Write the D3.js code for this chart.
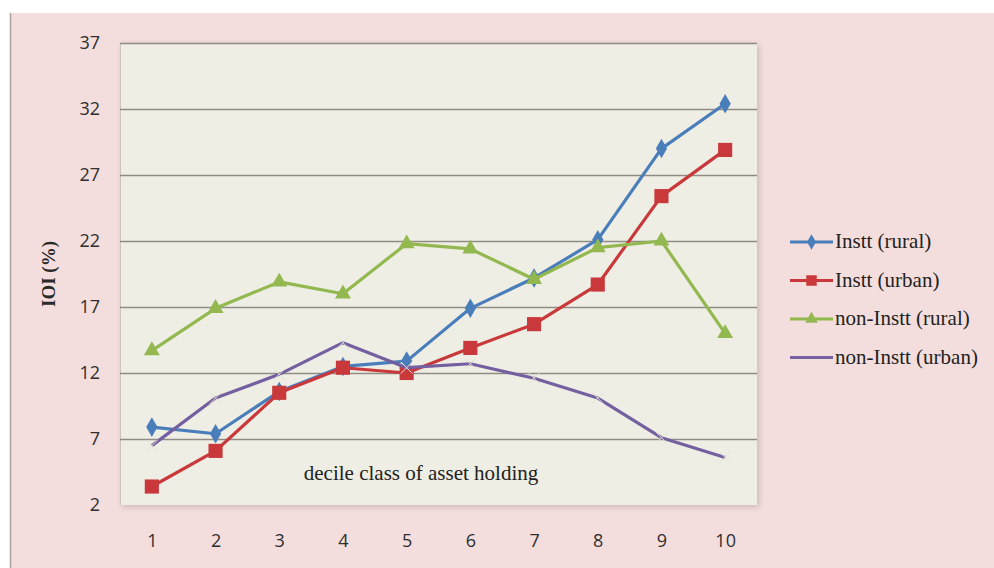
<!DOCTYPE html>
<html>
<head>
<meta charset="utf-8">
<script src="https://cdn.jsdelivr.net/npm/d3@7"></script>
<style>
  html, body { margin: 0; padding: 0; background: #ffffff; }
  svg { display: block; }
</style>
</head>
<body>
<svg id="chart" width="994" height="568"></svg>
<script>
// Decile classes of asset holding
const deciles = [1, 2, 3, 4, 5, 6, 7, 8, 9, 10];

// IOI (%) by decile class
const insttRural     = [7.9, 7.4, 10.6, 12.5, 12.9, 16.9, 19.2, 22.1, 29.0, 32.4];
const insttUrban     = [3.4, 6.1, 10.5, 12.4, 12.0, 13.9, 15.7, 18.7, 25.4, 28.9];
const nonInsttRural  = [13.7, 16.9, 18.9, 18.0, 21.8, 21.4, 19.1, 21.5, 22.0, 15.0];
const nonInsttUrban  = [6.5, 10.1, 11.9, 14.3, 12.4, 12.7, 11.6, 10.1, 7.1, 5.6];

const seriesNames = ["Instt (rural)", "Instt (urban)", "non-Instt (rural)", "non-Instt (urban)"];
const yTicks = [2, 7, 12, 17, 22, 27, 32, 37];

const series = [
  { name: seriesNames[0], values: insttRural,    color: "#4a7ebb", marker: "diamond" },
  { name: seriesNames[1], values: insttUrban,    color: "#c9393b", marker: "square" },
  { name: seriesNames[2], values: nonInsttRural, color: "#92b84f", marker: "triangle" },
  { name: seriesNames[3], values: nonInsttUrban, color: "#7460a0", marker: "cross" }
];

const serif = "'Liberation Serif', 'DejaVu Serif', serif";
const sans = "'Open Sans', 'DejaVu Sans', sans-serif";

const svg = d3.select("#chart");

// page frame: white strip on top and left, pink chart background
svg.append("rect").attr("x", 0).attr("y", 0).attr("width", 994).attr("height", 568).attr("fill", "#ffffff");
svg.append("rect").attr("x", 11).attr("y", 13).attr("width", 983).attr("height", 555).attr("fill", "#f4dedd");
svg.append("line").attr("x1", 10.5).attr("x2", 10.5).attr("y1", 13).attr("y2", 568)
  .attr("stroke", "#a9a2a2").attr("stroke-width", 1.5);

const plot = { left: 120, top: 43, right: 757, bottom: 505 };

const x = d3.scalePoint().domain(deciles).range([plot.left, plot.right]).padding(0.5);
const y = d3.scaleLinear().domain([2, 37]).range([plot.bottom, plot.top]);

// soft shadow under the plot area
const defs = svg.append("defs");
const f = defs.append("filter").attr("id", "shadow").attr("x", "-5%").attr("y", "-5%").attr("width", "115%").attr("height", "115%");
f.append("feGaussianBlur").attr("in", "SourceAlpha").attr("stdDeviation", 3);
f.append("feOffset").attr("dx", 2).attr("dy", 2).attr("result", "b");
f.append("feComponentTransfer").append("feFuncA").attr("type", "linear").attr("slope", 0.18);
const m = f.append("feMerge");
m.append("feMergeNode");
m.append("feMergeNode").attr("in", "SourceGraphic");

svg.append("rect")
  .attr("x", plot.left).attr("y", plot.top)
  .attr("width", plot.right - plot.left).attr("height", plot.bottom - plot.top)
  .attr("fill", "#efeee4")
  .attr("filter", "url(#shadow)");

// left edge of the plot area
svg.append("line").attr("x1", plot.left + 0.5).attr("x2", plot.left + 0.5)
  .attr("y1", plot.top).attr("y2", plot.bottom).attr("stroke", "#c9c5bc").attr("stroke-width", 1);

// horizontal gridlines
const yAxis = d3.axisLeft(y).tickValues(yTicks).tickSize(-(plot.right - plot.left)).tickPadding(20);
const gy = svg.append("g").attr("transform", `translate(${plot.left},0)`).call(yAxis);
gy.select(".domain").remove();
gy.selectAll(".tick line")
  .attr("stroke", d => d === 2 ? "none" : "#8e8c84")
  .attr("stroke-width", 1.6);
gy.selectAll(".tick text")
  .attr("font-family", sans)
  .attr("font-size", 18)
  .attr("fill", "#2e2e2e");

// x axis labels
const xAxis = d3.axisBottom(x).tickSize(0).tickPadding(29);
const gx = svg.append("g").attr("transform", `translate(0,${plot.bottom})`).call(xAxis);
gx.select(".domain").remove();
gx.selectAll(".tick text")
  .attr("font-family", sans)
  .attr("font-size", 18)
  .attr("fill", "#2e2e2e");

// y axis title
svg.append("text")
  .attr("transform", `translate(55,${(plot.top + plot.bottom) / 2}) rotate(-90)`)
  .attr("text-anchor", "middle")
  .attr("font-family", serif)
  .attr("font-weight", "bold")
  .attr("font-size", 19)
  .attr("fill", "#2a2a2a")
  .text("IOI (%)");

// x axis title placed inside the plot
svg.append("text")
  .attr("x", 421)
  .attr("y", 480)
  .attr("text-anchor", "middle")
  .attr("font-family", serif)
  .attr("font-size", 21)
  .attr("fill", "#222222")
  .text("decile class of asset holding");

// marker shapes
function markerPath(type) {
  switch (type) {
    case "diamond": return d3.symbol().type(d3.symbolDiamond).size(110)();
    case "square": return d3.symbol().type(d3.symbolSquare).size(200)();
    case "triangle": return d3.symbol().type(d3.symbolTriangle).size(110)();
    default: return d3.symbol().type(d3.symbolX).size(90)();
  }
}

const line = d3.line().x((d, i) => x(deciles[i])).y(d => y(d));

// draw series in order so later ones sit on top
series.forEach(s => {
  const g = svg.append("g");
  g.append("path")
    .attr("d", line(s.values))
    .attr("fill", "none")
    .attr("stroke", s.color)
    .attr("stroke-width", 3.2)
    .attr("stroke-linejoin", "round");
  g.selectAll("path.mk")
    .data(s.values)
    .join("path")
    .attr("class", "mk")
    .attr("d", markerPath(s.marker))
    .attr("transform", (d, i) => `translate(${x(deciles[i])},${y(d)})`)
    .attr("fill", s.marker === "cross" ? "#ece8dc" : s.color)
    .attr("stroke", s.marker === "cross" ? "#e6e2d6" : "none")
    .attr("stroke-width", 1);
});

// legend
const legend = svg.append("g").attr("transform", "translate(790,242)");
series.forEach((s, i) => {
  const row = legend.append("g").attr("transform", `translate(0,${i * 38.5})`);
  row.append("line").attr("x1", 0).attr("x2", 43).attr("y1", 0).attr("y2", 0)
    .attr("stroke", s.color).attr("stroke-width", 3);
  if (s.marker !== "cross") {
    const sz = s.marker === "square" ? 110 : 70;
    const sym = s.marker === "diamond" ? d3.symbolDiamond : s.marker === "square" ? d3.symbolSquare : d3.symbolTriangle;
    row.append("path").attr("d", d3.symbol().type(sym).size(sz)())
      .attr("transform", "translate(21.5,0)").attr("fill", s.color);
  }
  row.append("text")
    .attr("x", 45).attr("y", 6)
    .attr("font-family", serif)
    .attr("font-size", 21)
    .attr("fill", "#222222")
    .text(s.name);
});
</script>
</body>
</html>
